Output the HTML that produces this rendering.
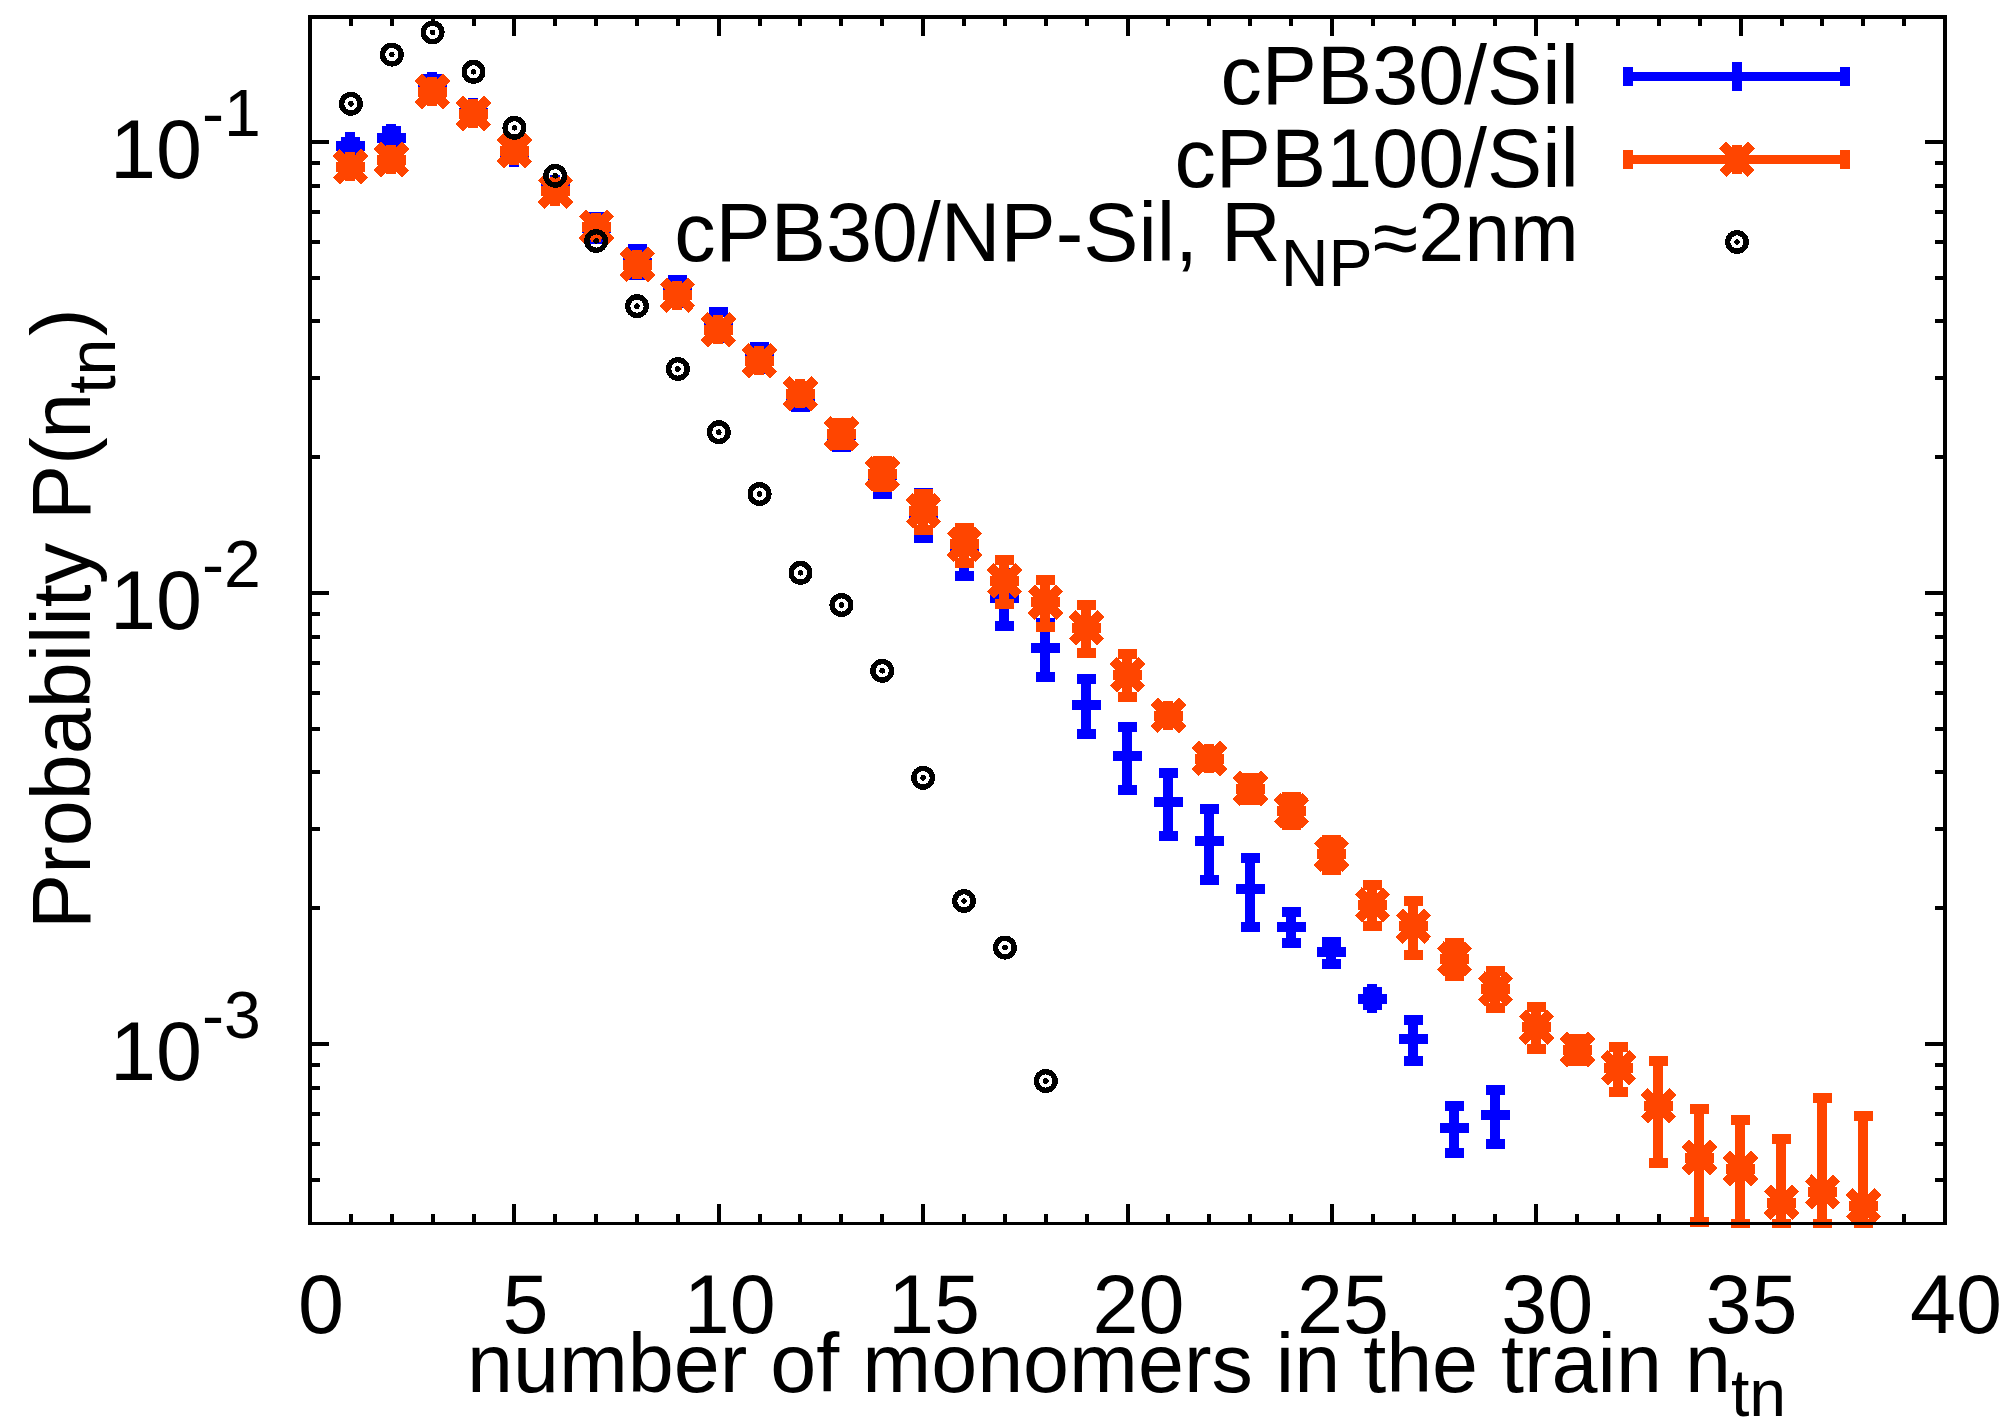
<!DOCTYPE html>
<html><head><meta charset="utf-8"><title>Probability P(n_tn)</title>
<style>html,body{margin:0;padding:0;background:#fff}svg{display:block}</style></head>
<body>
<svg width="2005" height="1428" viewBox="0 0 2005 1428">
<rect width="2005" height="1428" fill="#fff"/>
<g shape-rendering="crispEdges">
<rect x="308.0" y="1204.0" width="4.0" height="19.0" fill="#000"/>
<rect x="308.0" y="17.0" width="4.0" height="19.0" fill="#000"/>
<rect x="349.0" y="1214.0" width="4.0" height="9.0" fill="#000"/>
<rect x="349.0" y="17.0" width="4.0" height="9.0" fill="#000"/>
<rect x="390.0" y="1214.0" width="4.0" height="9.0" fill="#000"/>
<rect x="390.0" y="17.0" width="4.0" height="9.0" fill="#000"/>
<rect x="431.0" y="1214.0" width="4.0" height="9.0" fill="#000"/>
<rect x="431.0" y="17.0" width="4.0" height="9.0" fill="#000"/>
<rect x="472.0" y="1214.0" width="4.0" height="9.0" fill="#000"/>
<rect x="472.0" y="17.0" width="4.0" height="9.0" fill="#000"/>
<rect x="512.0" y="1204.0" width="4.0" height="19.0" fill="#000"/>
<rect x="512.0" y="17.0" width="4.0" height="19.0" fill="#000"/>
<rect x="553.0" y="1214.0" width="4.0" height="9.0" fill="#000"/>
<rect x="553.0" y="17.0" width="4.0" height="9.0" fill="#000"/>
<rect x="594.0" y="1214.0" width="4.0" height="9.0" fill="#000"/>
<rect x="594.0" y="17.0" width="4.0" height="9.0" fill="#000"/>
<rect x="635.0" y="1214.0" width="4.0" height="9.0" fill="#000"/>
<rect x="635.0" y="17.0" width="4.0" height="9.0" fill="#000"/>
<rect x="676.0" y="1214.0" width="4.0" height="9.0" fill="#000"/>
<rect x="676.0" y="17.0" width="4.0" height="9.0" fill="#000"/>
<rect x="717.0" y="1204.0" width="4.0" height="19.0" fill="#000"/>
<rect x="717.0" y="17.0" width="4.0" height="19.0" fill="#000"/>
<rect x="758.0" y="1214.0" width="4.0" height="9.0" fill="#000"/>
<rect x="758.0" y="17.0" width="4.0" height="9.0" fill="#000"/>
<rect x="798.0" y="1214.0" width="4.0" height="9.0" fill="#000"/>
<rect x="798.0" y="17.0" width="4.0" height="9.0" fill="#000"/>
<rect x="839.0" y="1214.0" width="4.0" height="9.0" fill="#000"/>
<rect x="839.0" y="17.0" width="4.0" height="9.0" fill="#000"/>
<rect x="880.0" y="1214.0" width="4.0" height="9.0" fill="#000"/>
<rect x="880.0" y="17.0" width="4.0" height="9.0" fill="#000"/>
<rect x="921.0" y="1204.0" width="4.0" height="19.0" fill="#000"/>
<rect x="921.0" y="17.0" width="4.0" height="19.0" fill="#000"/>
<rect x="962.0" y="1214.0" width="4.0" height="9.0" fill="#000"/>
<rect x="962.0" y="17.0" width="4.0" height="9.0" fill="#000"/>
<rect x="1003.0" y="1214.0" width="4.0" height="9.0" fill="#000"/>
<rect x="1003.0" y="17.0" width="4.0" height="9.0" fill="#000"/>
<rect x="1044.0" y="1214.0" width="4.0" height="9.0" fill="#000"/>
<rect x="1044.0" y="17.0" width="4.0" height="9.0" fill="#000"/>
<rect x="1085.0" y="1214.0" width="4.0" height="9.0" fill="#000"/>
<rect x="1085.0" y="17.0" width="4.0" height="9.0" fill="#000"/>
<rect x="1126.0" y="1204.0" width="4.0" height="19.0" fill="#000"/>
<rect x="1126.0" y="17.0" width="4.0" height="19.0" fill="#000"/>
<rect x="1166.0" y="1214.0" width="4.0" height="9.0" fill="#000"/>
<rect x="1166.0" y="17.0" width="4.0" height="9.0" fill="#000"/>
<rect x="1207.0" y="1214.0" width="4.0" height="9.0" fill="#000"/>
<rect x="1207.0" y="17.0" width="4.0" height="9.0" fill="#000"/>
<rect x="1248.0" y="1214.0" width="4.0" height="9.0" fill="#000"/>
<rect x="1248.0" y="17.0" width="4.0" height="9.0" fill="#000"/>
<rect x="1289.0" y="1214.0" width="4.0" height="9.0" fill="#000"/>
<rect x="1289.0" y="17.0" width="4.0" height="9.0" fill="#000"/>
<rect x="1330.0" y="1204.0" width="4.0" height="19.0" fill="#000"/>
<rect x="1330.0" y="17.0" width="4.0" height="19.0" fill="#000"/>
<rect x="1371.0" y="1214.0" width="4.0" height="9.0" fill="#000"/>
<rect x="1371.0" y="17.0" width="4.0" height="9.0" fill="#000"/>
<rect x="1412.0" y="1214.0" width="4.0" height="9.0" fill="#000"/>
<rect x="1412.0" y="17.0" width="4.0" height="9.0" fill="#000"/>
<rect x="1452.0" y="1214.0" width="4.0" height="9.0" fill="#000"/>
<rect x="1452.0" y="17.0" width="4.0" height="9.0" fill="#000"/>
<rect x="1493.0" y="1214.0" width="4.0" height="9.0" fill="#000"/>
<rect x="1493.0" y="17.0" width="4.0" height="9.0" fill="#000"/>
<rect x="1534.0" y="1204.0" width="4.0" height="19.0" fill="#000"/>
<rect x="1534.0" y="17.0" width="4.0" height="19.0" fill="#000"/>
<rect x="1575.0" y="1214.0" width="4.0" height="9.0" fill="#000"/>
<rect x="1575.0" y="17.0" width="4.0" height="9.0" fill="#000"/>
<rect x="1616.0" y="1214.0" width="4.0" height="9.0" fill="#000"/>
<rect x="1616.0" y="17.0" width="4.0" height="9.0" fill="#000"/>
<rect x="1657.0" y="1214.0" width="4.0" height="9.0" fill="#000"/>
<rect x="1657.0" y="17.0" width="4.0" height="9.0" fill="#000"/>
<rect x="1698.0" y="1214.0" width="4.0" height="9.0" fill="#000"/>
<rect x="1698.0" y="17.0" width="4.0" height="9.0" fill="#000"/>
<rect x="1739.0" y="1204.0" width="4.0" height="19.0" fill="#000"/>
<rect x="1739.0" y="17.0" width="4.0" height="19.0" fill="#000"/>
<rect x="1780.0" y="1214.0" width="4.0" height="9.0" fill="#000"/>
<rect x="1780.0" y="17.0" width="4.0" height="9.0" fill="#000"/>
<rect x="1820.0" y="1214.0" width="4.0" height="9.0" fill="#000"/>
<rect x="1820.0" y="17.0" width="4.0" height="9.0" fill="#000"/>
<rect x="1861.0" y="1214.0" width="4.0" height="9.0" fill="#000"/>
<rect x="1861.0" y="17.0" width="4.0" height="9.0" fill="#000"/>
<rect x="1902.0" y="1214.0" width="4.0" height="9.0" fill="#000"/>
<rect x="1902.0" y="17.0" width="4.0" height="9.0" fill="#000"/>
<rect x="1943.0" y="1204.0" width="4.0" height="19.0" fill="#000"/>
<rect x="1943.0" y="17.0" width="4.0" height="19.0" fill="#000"/>
<rect x="310.0" y="1178.0" width="10.0" height="4.0" fill="#000"/>
<rect x="1935.0" y="1178.0" width="10.0" height="4.0" fill="#000"/>
<rect x="310.0" y="1142.0" width="10.0" height="4.0" fill="#000"/>
<rect x="1935.0" y="1142.0" width="10.0" height="4.0" fill="#000"/>
<rect x="310.0" y="1112.0" width="10.0" height="4.0" fill="#000"/>
<rect x="1935.0" y="1112.0" width="10.0" height="4.0" fill="#000"/>
<rect x="310.0" y="1086.0" width="10.0" height="4.0" fill="#000"/>
<rect x="1935.0" y="1086.0" width="10.0" height="4.0" fill="#000"/>
<rect x="310.0" y="1063.0" width="10.0" height="4.0" fill="#000"/>
<rect x="1935.0" y="1063.0" width="10.0" height="4.0" fill="#000"/>
<rect x="310.0" y="1042.0" width="19.0" height="4.0" fill="#000"/>
<rect x="1925.0" y="1042.0" width="20.0" height="4.0" fill="#000"/>
<rect x="310.0" y="906.0" width="10.0" height="4.0" fill="#000"/>
<rect x="1935.0" y="906.0" width="10.0" height="4.0" fill="#000"/>
<rect x="310.0" y="827.0" width="10.0" height="4.0" fill="#000"/>
<rect x="1935.0" y="827.0" width="10.0" height="4.0" fill="#000"/>
<rect x="310.0" y="770.0" width="10.0" height="4.0" fill="#000"/>
<rect x="1935.0" y="770.0" width="10.0" height="4.0" fill="#000"/>
<rect x="310.0" y="727.0" width="10.0" height="4.0" fill="#000"/>
<rect x="1935.0" y="727.0" width="10.0" height="4.0" fill="#000"/>
<rect x="310.0" y="691.0" width="10.0" height="4.0" fill="#000"/>
<rect x="1935.0" y="691.0" width="10.0" height="4.0" fill="#000"/>
<rect x="310.0" y="661.0" width="10.0" height="4.0" fill="#000"/>
<rect x="1935.0" y="661.0" width="10.0" height="4.0" fill="#000"/>
<rect x="310.0" y="635.0" width="10.0" height="4.0" fill="#000"/>
<rect x="1935.0" y="635.0" width="10.0" height="4.0" fill="#000"/>
<rect x="310.0" y="612.0" width="10.0" height="4.0" fill="#000"/>
<rect x="1935.0" y="612.0" width="10.0" height="4.0" fill="#000"/>
<rect x="310.0" y="591.0" width="19.0" height="4.0" fill="#000"/>
<rect x="1925.0" y="591.0" width="20.0" height="4.0" fill="#000"/>
<rect x="310.0" y="455.0" width="10.0" height="4.0" fill="#000"/>
<rect x="1935.0" y="455.0" width="10.0" height="4.0" fill="#000"/>
<rect x="310.0" y="376.0" width="10.0" height="4.0" fill="#000"/>
<rect x="1935.0" y="376.0" width="10.0" height="4.0" fill="#000"/>
<rect x="310.0" y="319.0" width="10.0" height="4.0" fill="#000"/>
<rect x="1935.0" y="319.0" width="10.0" height="4.0" fill="#000"/>
<rect x="310.0" y="276.0" width="10.0" height="4.0" fill="#000"/>
<rect x="1935.0" y="276.0" width="10.0" height="4.0" fill="#000"/>
<rect x="310.0" y="240.0" width="10.0" height="4.0" fill="#000"/>
<rect x="1935.0" y="240.0" width="10.0" height="4.0" fill="#000"/>
<rect x="310.0" y="210.0" width="10.0" height="4.0" fill="#000"/>
<rect x="1935.0" y="210.0" width="10.0" height="4.0" fill="#000"/>
<rect x="310.0" y="184.0" width="10.0" height="4.0" fill="#000"/>
<rect x="1935.0" y="184.0" width="10.0" height="4.0" fill="#000"/>
<rect x="310.0" y="161.0" width="10.0" height="4.0" fill="#000"/>
<rect x="1935.0" y="161.0" width="10.0" height="4.0" fill="#000"/>
<rect x="310.0" y="140.0" width="19.0" height="4.0" fill="#000"/>
<rect x="1925.0" y="140.0" width="20.0" height="4.0" fill="#000"/>
<rect x="345.0" y="142.2" width="10.0" height="8.4" fill="#0000ff"/>
<rect x="340.5" y="137.2" width="19.0" height="10.0" fill="#0000ff"/>
<rect x="340.5" y="145.6" width="19.0" height="10.0" fill="#0000ff"/>
<rect x="335.5" y="141.4" width="29.0" height="10.0" fill="#0000ff"/>
<rect x="345.0" y="131.9" width="10.0" height="29.0" fill="#0000ff"/>
<rect x="386.0" y="131.0" width="10.0" height="14.0" fill="#0000ff"/>
<rect x="381.5" y="126.0" width="19.0" height="10.0" fill="#0000ff"/>
<rect x="381.5" y="140.0" width="19.0" height="10.0" fill="#0000ff"/>
<rect x="376.5" y="133.0" width="29.0" height="10.0" fill="#0000ff"/>
<rect x="386.0" y="123.5" width="10.0" height="29.0" fill="#0000ff"/>
<rect x="427.0" y="79.0" width="10.0" height="13.3" fill="#0000ff"/>
<rect x="422.5" y="74.0" width="19.0" height="10.0" fill="#0000ff"/>
<rect x="422.5" y="87.3" width="19.0" height="10.0" fill="#0000ff"/>
<rect x="417.5" y="81.3" width="29.0" height="10.0" fill="#0000ff"/>
<rect x="427.0" y="71.8" width="10.0" height="29.0" fill="#0000ff"/>
<rect x="468.0" y="107.7" width="10.0" height="10.0" fill="#0000ff"/>
<rect x="463.5" y="102.7" width="19.0" height="10.0" fill="#0000ff"/>
<rect x="463.5" y="112.7" width="19.0" height="10.0" fill="#0000ff"/>
<rect x="458.5" y="107.7" width="29.0" height="10.0" fill="#0000ff"/>
<rect x="468.0" y="98.2" width="10.0" height="29.0" fill="#0000ff"/>
<rect x="509.0" y="147.3" width="10.0" height="10.0" fill="#0000ff"/>
<rect x="504.5" y="142.3" width="19.0" height="10.0" fill="#0000ff"/>
<rect x="504.5" y="152.3" width="19.0" height="10.0" fill="#0000ff"/>
<rect x="499.5" y="147.3" width="29.0" height="10.0" fill="#0000ff"/>
<rect x="509.0" y="137.8" width="10.0" height="29.0" fill="#0000ff"/>
<rect x="550.0" y="184.3" width="10.0" height="10.0" fill="#0000ff"/>
<rect x="545.5" y="179.3" width="19.0" height="10.0" fill="#0000ff"/>
<rect x="545.5" y="189.3" width="19.0" height="10.0" fill="#0000ff"/>
<rect x="540.5" y="184.3" width="29.0" height="10.0" fill="#0000ff"/>
<rect x="550.0" y="174.8" width="10.0" height="29.0" fill="#0000ff"/>
<rect x="591.0" y="216.8" width="10.0" height="21.7" fill="#0000ff"/>
<rect x="586.5" y="211.8" width="19.0" height="10.0" fill="#0000ff"/>
<rect x="586.5" y="233.5" width="19.0" height="10.0" fill="#0000ff"/>
<rect x="581.5" y="222.5" width="29.0" height="10.0" fill="#0000ff"/>
<rect x="591.0" y="213.0" width="10.0" height="29.0" fill="#0000ff"/>
<rect x="632.0" y="249.0" width="10.0" height="25.5" fill="#0000ff"/>
<rect x="627.5" y="244.0" width="19.0" height="10.0" fill="#0000ff"/>
<rect x="627.5" y="269.5" width="19.0" height="10.0" fill="#0000ff"/>
<rect x="622.5" y="257.5" width="29.0" height="10.0" fill="#0000ff"/>
<rect x="632.0" y="248.0" width="10.0" height="29.0" fill="#0000ff"/>
<rect x="672.0" y="280.4" width="10.0" height="23.0" fill="#0000ff"/>
<rect x="667.5" y="275.4" width="19.0" height="10.0" fill="#0000ff"/>
<rect x="667.5" y="298.4" width="19.0" height="10.0" fill="#0000ff"/>
<rect x="662.5" y="288.4" width="29.0" height="10.0" fill="#0000ff"/>
<rect x="672.0" y="278.9" width="10.0" height="29.0" fill="#0000ff"/>
<rect x="713.0" y="312.1" width="10.0" height="25.7" fill="#0000ff"/>
<rect x="708.5" y="307.1" width="19.0" height="10.0" fill="#0000ff"/>
<rect x="708.5" y="332.8" width="19.0" height="10.0" fill="#0000ff"/>
<rect x="703.5" y="322.8" width="29.0" height="10.0" fill="#0000ff"/>
<rect x="713.0" y="313.3" width="10.0" height="29.0" fill="#0000ff"/>
<rect x="754.0" y="347.0" width="10.0" height="22.0" fill="#0000ff"/>
<rect x="749.5" y="342.0" width="19.0" height="10.0" fill="#0000ff"/>
<rect x="749.5" y="364.0" width="19.0" height="10.0" fill="#0000ff"/>
<rect x="744.5" y="354.0" width="29.0" height="10.0" fill="#0000ff"/>
<rect x="754.0" y="344.5" width="10.0" height="29.0" fill="#0000ff"/>
<rect x="795.0" y="385.5" width="10.0" height="21.5" fill="#0000ff"/>
<rect x="790.5" y="380.5" width="19.0" height="10.0" fill="#0000ff"/>
<rect x="790.5" y="402.0" width="19.0" height="10.0" fill="#0000ff"/>
<rect x="785.5" y="390.5" width="29.0" height="10.0" fill="#0000ff"/>
<rect x="795.0" y="381.0" width="10.0" height="29.0" fill="#0000ff"/>
<rect x="836.0" y="424.5" width="10.0" height="22.4" fill="#0000ff"/>
<rect x="831.5" y="419.5" width="19.0" height="10.0" fill="#0000ff"/>
<rect x="831.5" y="441.9" width="19.0" height="10.0" fill="#0000ff"/>
<rect x="826.5" y="429.5" width="29.0" height="10.0" fill="#0000ff"/>
<rect x="836.0" y="420.0" width="10.0" height="29.0" fill="#0000ff"/>
<rect x="877.0" y="463.0" width="10.0" height="30.7" fill="#0000ff"/>
<rect x="872.5" y="458.0" width="19.0" height="10.0" fill="#0000ff"/>
<rect x="872.5" y="488.7" width="19.0" height="10.0" fill="#0000ff"/>
<rect x="867.5" y="470.0" width="29.0" height="10.0" fill="#0000ff"/>
<rect x="877.0" y="460.5" width="10.0" height="29.0" fill="#0000ff"/>
<rect x="918.0" y="493.2" width="10.0" height="44.7" fill="#0000ff"/>
<rect x="913.5" y="488.2" width="19.0" height="10.0" fill="#0000ff"/>
<rect x="913.5" y="532.9" width="19.0" height="10.0" fill="#0000ff"/>
<rect x="908.5" y="509.0" width="29.0" height="10.0" fill="#0000ff"/>
<rect x="918.0" y="499.5" width="10.0" height="29.0" fill="#0000ff"/>
<rect x="959.0" y="529.5" width="10.0" height="46.5" fill="#0000ff"/>
<rect x="954.5" y="524.5" width="19.0" height="10.0" fill="#0000ff"/>
<rect x="954.5" y="571.0" width="19.0" height="10.0" fill="#0000ff"/>
<rect x="949.5" y="542.5" width="29.0" height="10.0" fill="#0000ff"/>
<rect x="959.0" y="533.0" width="10.0" height="29.0" fill="#0000ff"/>
<rect x="999.0" y="573.1" width="10.0" height="53.0" fill="#0000ff"/>
<rect x="994.5" y="568.1" width="19.0" height="10.0" fill="#0000ff"/>
<rect x="994.5" y="621.1" width="19.0" height="10.0" fill="#0000ff"/>
<rect x="989.5" y="593.1" width="29.0" height="10.0" fill="#0000ff"/>
<rect x="999.0" y="583.6" width="10.0" height="29.0" fill="#0000ff"/>
<rect x="1040.0" y="623.0" width="10.0" height="54.4" fill="#0000ff"/>
<rect x="1035.5" y="618.0" width="19.0" height="10.0" fill="#0000ff"/>
<rect x="1035.5" y="672.4" width="19.0" height="10.0" fill="#0000ff"/>
<rect x="1030.5" y="643.0" width="29.0" height="10.0" fill="#0000ff"/>
<rect x="1040.0" y="633.5" width="10.0" height="29.0" fill="#0000ff"/>
<rect x="1081.0" y="679.0" width="10.0" height="55.1" fill="#0000ff"/>
<rect x="1076.5" y="674.0" width="19.0" height="10.0" fill="#0000ff"/>
<rect x="1076.5" y="729.1" width="19.0" height="10.0" fill="#0000ff"/>
<rect x="1071.5" y="700.2" width="29.0" height="10.0" fill="#0000ff"/>
<rect x="1081.0" y="690.7" width="10.0" height="29.0" fill="#0000ff"/>
<rect x="1122.0" y="727.0" width="10.0" height="63.0" fill="#0000ff"/>
<rect x="1117.5" y="722.0" width="19.0" height="10.0" fill="#0000ff"/>
<rect x="1117.5" y="785.0" width="19.0" height="10.0" fill="#0000ff"/>
<rect x="1112.5" y="751.0" width="29.0" height="10.0" fill="#0000ff"/>
<rect x="1122.0" y="741.5" width="10.0" height="29.0" fill="#0000ff"/>
<rect x="1163.0" y="773.0" width="10.0" height="63.0" fill="#0000ff"/>
<rect x="1158.5" y="768.0" width="19.0" height="10.0" fill="#0000ff"/>
<rect x="1158.5" y="831.0" width="19.0" height="10.0" fill="#0000ff"/>
<rect x="1153.5" y="796.9" width="29.0" height="10.0" fill="#0000ff"/>
<rect x="1163.0" y="787.4" width="10.0" height="29.0" fill="#0000ff"/>
<rect x="1204.0" y="809.1" width="10.0" height="70.6" fill="#0000ff"/>
<rect x="1199.5" y="804.1" width="19.0" height="10.0" fill="#0000ff"/>
<rect x="1199.5" y="874.7" width="19.0" height="10.0" fill="#0000ff"/>
<rect x="1194.5" y="836.0" width="29.0" height="10.0" fill="#0000ff"/>
<rect x="1204.0" y="826.5" width="10.0" height="29.0" fill="#0000ff"/>
<rect x="1245.0" y="858.0" width="10.0" height="69.0" fill="#0000ff"/>
<rect x="1240.5" y="853.0" width="19.0" height="10.0" fill="#0000ff"/>
<rect x="1240.5" y="922.0" width="19.0" height="10.0" fill="#0000ff"/>
<rect x="1235.5" y="884.0" width="29.0" height="10.0" fill="#0000ff"/>
<rect x="1245.0" y="874.5" width="10.0" height="29.0" fill="#0000ff"/>
<rect x="1286.0" y="912.0" width="10.0" height="30.8" fill="#0000ff"/>
<rect x="1281.5" y="907.0" width="19.0" height="10.0" fill="#0000ff"/>
<rect x="1281.5" y="937.8" width="19.0" height="10.0" fill="#0000ff"/>
<rect x="1276.5" y="922.0" width="29.0" height="10.0" fill="#0000ff"/>
<rect x="1286.0" y="912.5" width="10.0" height="29.0" fill="#0000ff"/>
<rect x="1326.0" y="942.1" width="10.0" height="21.8" fill="#0000ff"/>
<rect x="1321.5" y="937.1" width="19.0" height="10.0" fill="#0000ff"/>
<rect x="1321.5" y="958.9" width="19.0" height="10.0" fill="#0000ff"/>
<rect x="1316.5" y="947.1" width="29.0" height="10.0" fill="#0000ff"/>
<rect x="1326.0" y="937.6" width="10.0" height="29.0" fill="#0000ff"/>
<rect x="1367.0" y="992.2" width="10.0" height="12.7" fill="#0000ff"/>
<rect x="1362.5" y="987.2" width="19.0" height="10.0" fill="#0000ff"/>
<rect x="1362.5" y="999.9" width="19.0" height="10.0" fill="#0000ff"/>
<rect x="1357.5" y="993.5" width="29.0" height="10.0" fill="#0000ff"/>
<rect x="1367.0" y="984.0" width="10.0" height="29.0" fill="#0000ff"/>
<rect x="1408.0" y="1020.2" width="10.0" height="41.0" fill="#0000ff"/>
<rect x="1403.5" y="1015.2" width="19.0" height="10.0" fill="#0000ff"/>
<rect x="1403.5" y="1056.2" width="19.0" height="10.0" fill="#0000ff"/>
<rect x="1398.5" y="1034.2" width="29.0" height="10.0" fill="#0000ff"/>
<rect x="1408.0" y="1024.7" width="10.0" height="29.0" fill="#0000ff"/>
<rect x="1449.0" y="1106.1" width="10.0" height="46.9" fill="#0000ff"/>
<rect x="1444.5" y="1101.1" width="19.0" height="10.0" fill="#0000ff"/>
<rect x="1444.5" y="1148.0" width="19.0" height="10.0" fill="#0000ff"/>
<rect x="1439.5" y="1123.1" width="29.0" height="10.0" fill="#0000ff"/>
<rect x="1449.0" y="1113.6" width="10.0" height="29.0" fill="#0000ff"/>
<rect x="1490.0" y="1090.1" width="10.0" height="53.5" fill="#0000ff"/>
<rect x="1485.5" y="1085.1" width="19.0" height="10.0" fill="#0000ff"/>
<rect x="1485.5" y="1138.6" width="19.0" height="10.0" fill="#0000ff"/>
<rect x="1480.5" y="1110.1" width="29.0" height="10.0" fill="#0000ff"/>
<rect x="1490.0" y="1100.6" width="10.0" height="29.0" fill="#0000ff"/>
<rect x="345.0" y="161.7" width="10.0" height="10.0" fill="#ff4500"/>
<rect x="340.5" y="156.7" width="19.0" height="10.0" fill="#ff4500"/>
<rect x="340.5" y="166.7" width="19.0" height="10.0" fill="#ff4500"/>
<rect x="335.5" y="161.7" width="29.0" height="10.0" fill="#ff4500"/>
<rect x="345.0" y="152.2" width="10.0" height="29.0" fill="#ff4500"/>
<polygon points="332.8,156.0 339.9,148.9 368.2,177.3 361.1,184.4" fill="#ff4500"/>
<polygon points="332.8,177.3 339.9,184.4 368.2,156.0 361.1,148.9" fill="#ff4500"/>
<rect x="386.0" y="154.6" width="10.0" height="10.0" fill="#ff4500"/>
<rect x="381.5" y="149.6" width="19.0" height="10.0" fill="#ff4500"/>
<rect x="381.5" y="159.6" width="19.0" height="10.0" fill="#ff4500"/>
<rect x="376.5" y="154.6" width="29.0" height="10.0" fill="#ff4500"/>
<rect x="386.0" y="145.1" width="10.0" height="29.0" fill="#ff4500"/>
<polygon points="373.8,148.9 380.9,141.8 409.2,170.2 402.1,177.3" fill="#ff4500"/>
<polygon points="373.8,170.2 380.9,177.3 409.2,148.9 402.1,141.8" fill="#ff4500"/>
<rect x="427.0" y="86.6" width="10.0" height="10.0" fill="#ff4500"/>
<rect x="422.5" y="81.6" width="19.0" height="10.0" fill="#ff4500"/>
<rect x="422.5" y="91.6" width="19.0" height="10.0" fill="#ff4500"/>
<rect x="417.5" y="86.6" width="29.0" height="10.0" fill="#ff4500"/>
<rect x="427.0" y="77.1" width="10.0" height="29.0" fill="#ff4500"/>
<polygon points="414.8,80.9 421.9,73.8 450.2,102.2 443.1,109.3" fill="#ff4500"/>
<polygon points="414.8,102.2 421.9,109.3 450.2,80.9 443.1,73.8" fill="#ff4500"/>
<rect x="468.0" y="108.6" width="10.0" height="10.0" fill="#ff4500"/>
<rect x="463.5" y="103.6" width="19.0" height="10.0" fill="#ff4500"/>
<rect x="463.5" y="113.6" width="19.0" height="10.0" fill="#ff4500"/>
<rect x="458.5" y="108.6" width="29.0" height="10.0" fill="#ff4500"/>
<rect x="468.0" y="99.1" width="10.0" height="29.0" fill="#ff4500"/>
<polygon points="455.8,102.9 462.9,95.8 491.2,124.2 484.1,131.3" fill="#ff4500"/>
<polygon points="455.8,124.2 462.9,131.3 491.2,102.9 484.1,95.8" fill="#ff4500"/>
<rect x="509.0" y="145.6" width="10.0" height="10.0" fill="#ff4500"/>
<rect x="504.5" y="140.6" width="19.0" height="10.0" fill="#ff4500"/>
<rect x="504.5" y="150.6" width="19.0" height="10.0" fill="#ff4500"/>
<rect x="499.5" y="145.6" width="29.0" height="10.0" fill="#ff4500"/>
<rect x="509.0" y="136.1" width="10.0" height="29.0" fill="#ff4500"/>
<polygon points="496.8,139.9 503.9,132.8 532.2,161.2 525.2,168.3" fill="#ff4500"/>
<polygon points="496.8,161.2 503.9,168.3 532.2,139.9 525.2,132.8" fill="#ff4500"/>
<rect x="550.0" y="186.4" width="10.0" height="10.0" fill="#ff4500"/>
<rect x="545.5" y="181.4" width="19.0" height="10.0" fill="#ff4500"/>
<rect x="545.5" y="191.4" width="19.0" height="10.0" fill="#ff4500"/>
<rect x="540.5" y="186.4" width="29.0" height="10.0" fill="#ff4500"/>
<rect x="550.0" y="176.9" width="10.0" height="29.0" fill="#ff4500"/>
<polygon points="537.8,180.8 544.8,173.7 573.2,202.1 566.2,209.2" fill="#ff4500"/>
<polygon points="537.8,202.1 544.8,209.2 573.2,180.8 566.2,173.7" fill="#ff4500"/>
<rect x="591.0" y="222.4" width="10.0" height="10.0" fill="#ff4500"/>
<rect x="586.5" y="217.4" width="19.0" height="10.0" fill="#ff4500"/>
<rect x="586.5" y="227.4" width="19.0" height="10.0" fill="#ff4500"/>
<rect x="581.5" y="222.4" width="29.0" height="10.0" fill="#ff4500"/>
<rect x="591.0" y="212.9" width="10.0" height="29.0" fill="#ff4500"/>
<polygon points="578.8,216.8 585.8,209.7 614.2,238.1 607.2,245.2" fill="#ff4500"/>
<polygon points="578.8,238.1 585.8,245.2 614.2,216.8 607.2,209.7" fill="#ff4500"/>
<rect x="632.0" y="259.5" width="10.0" height="10.0" fill="#ff4500"/>
<rect x="627.5" y="254.5" width="19.0" height="10.0" fill="#ff4500"/>
<rect x="627.5" y="264.5" width="19.0" height="10.0" fill="#ff4500"/>
<rect x="622.5" y="259.5" width="29.0" height="10.0" fill="#ff4500"/>
<rect x="632.0" y="250.0" width="10.0" height="29.0" fill="#ff4500"/>
<polygon points="619.8,253.8 626.8,246.8 655.2,275.1 648.2,282.2" fill="#ff4500"/>
<polygon points="619.8,275.1 626.8,282.2 655.2,253.8 648.2,246.8" fill="#ff4500"/>
<rect x="672.0" y="290.2" width="10.0" height="10.0" fill="#ff4500"/>
<rect x="667.5" y="285.2" width="19.0" height="10.0" fill="#ff4500"/>
<rect x="667.5" y="295.2" width="19.0" height="10.0" fill="#ff4500"/>
<rect x="662.5" y="290.2" width="29.0" height="10.0" fill="#ff4500"/>
<rect x="672.0" y="280.7" width="10.0" height="29.0" fill="#ff4500"/>
<polygon points="659.8,284.6 666.8,277.4 695.2,305.8 688.2,312.9" fill="#ff4500"/>
<polygon points="659.8,305.8 666.8,312.9 695.2,284.6 688.2,277.4" fill="#ff4500"/>
<rect x="713.0" y="323.6" width="10.0" height="12.0" fill="#ff4500"/>
<rect x="708.5" y="318.6" width="19.0" height="10.0" fill="#ff4500"/>
<rect x="708.5" y="330.6" width="19.0" height="10.0" fill="#ff4500"/>
<rect x="703.5" y="324.6" width="29.0" height="10.0" fill="#ff4500"/>
<rect x="713.0" y="315.1" width="10.0" height="29.0" fill="#ff4500"/>
<polygon points="700.8,319.0 707.8,311.9 736.2,340.2 729.2,347.4" fill="#ff4500"/>
<polygon points="700.8,340.2 707.8,347.4 736.2,319.0 729.2,311.9" fill="#ff4500"/>
<rect x="754.0" y="353.6" width="10.0" height="14.0" fill="#ff4500"/>
<rect x="749.5" y="348.6" width="19.0" height="10.0" fill="#ff4500"/>
<rect x="749.5" y="362.6" width="19.0" height="10.0" fill="#ff4500"/>
<rect x="744.5" y="355.6" width="29.0" height="10.0" fill="#ff4500"/>
<rect x="754.0" y="346.1" width="10.0" height="29.0" fill="#ff4500"/>
<polygon points="741.8,350.0 748.8,342.9 777.2,371.2 770.2,378.4" fill="#ff4500"/>
<polygon points="741.8,371.2 748.8,378.4 777.2,350.0 770.2,342.9" fill="#ff4500"/>
<rect x="795.0" y="385.6" width="10.0" height="16.0" fill="#ff4500"/>
<rect x="790.5" y="380.6" width="19.0" height="10.0" fill="#ff4500"/>
<rect x="790.5" y="396.6" width="19.0" height="10.0" fill="#ff4500"/>
<rect x="785.5" y="388.6" width="29.0" height="10.0" fill="#ff4500"/>
<rect x="795.0" y="379.1" width="10.0" height="29.0" fill="#ff4500"/>
<polygon points="782.8,383.0 789.8,375.9 818.2,404.2 811.2,411.4" fill="#ff4500"/>
<polygon points="782.8,404.2 789.8,411.4 818.2,383.0 811.2,375.9" fill="#ff4500"/>
<rect x="836.0" y="423.0" width="10.0" height="22.1" fill="#ff4500"/>
<rect x="831.5" y="418.0" width="19.0" height="10.0" fill="#ff4500"/>
<rect x="831.5" y="440.1" width="19.0" height="10.0" fill="#ff4500"/>
<rect x="826.5" y="428.6" width="29.0" height="10.0" fill="#ff4500"/>
<rect x="836.0" y="419.1" width="10.0" height="29.0" fill="#ff4500"/>
<polygon points="823.8,423.0 830.8,415.9 859.2,444.2 852.2,451.4" fill="#ff4500"/>
<polygon points="823.8,444.2 830.8,451.4 859.2,423.0 852.2,415.9" fill="#ff4500"/>
<rect x="877.0" y="461.0" width="10.0" height="25.7" fill="#ff4500"/>
<rect x="872.5" y="456.0" width="19.0" height="10.0" fill="#ff4500"/>
<rect x="872.5" y="481.7" width="19.0" height="10.0" fill="#ff4500"/>
<rect x="867.5" y="468.6" width="29.0" height="10.0" fill="#ff4500"/>
<rect x="877.0" y="459.1" width="10.0" height="29.0" fill="#ff4500"/>
<polygon points="864.8,463.0 871.8,455.9 900.2,484.2 893.2,491.4" fill="#ff4500"/>
<polygon points="864.8,484.2 871.8,491.4 900.2,463.0 893.2,455.9" fill="#ff4500"/>
<rect x="918.0" y="493.9" width="10.0" height="35.6" fill="#ff4500"/>
<rect x="913.5" y="488.9" width="19.0" height="10.0" fill="#ff4500"/>
<rect x="913.5" y="524.5" width="19.0" height="10.0" fill="#ff4500"/>
<rect x="908.5" y="505.8" width="29.0" height="10.0" fill="#ff4500"/>
<rect x="918.0" y="496.3" width="10.0" height="29.0" fill="#ff4500"/>
<polygon points="905.8,500.2 912.8,493.1 941.2,521.5 934.2,528.5" fill="#ff4500"/>
<polygon points="905.8,521.5 912.8,528.5 941.2,500.2 934.2,493.1" fill="#ff4500"/>
<rect x="959.0" y="528.2" width="10.0" height="34.6" fill="#ff4500"/>
<rect x="954.5" y="523.2" width="19.0" height="10.0" fill="#ff4500"/>
<rect x="954.5" y="557.8" width="19.0" height="10.0" fill="#ff4500"/>
<rect x="949.5" y="539.4" width="29.0" height="10.0" fill="#ff4500"/>
<rect x="959.0" y="529.9" width="10.0" height="29.0" fill="#ff4500"/>
<polygon points="946.8,533.8 953.8,526.6 982.2,555.0 975.2,562.1" fill="#ff4500"/>
<polygon points="946.8,555.0 953.8,562.1 982.2,533.8 975.2,526.6" fill="#ff4500"/>
<rect x="999.0" y="560.2" width="10.0" height="43.6" fill="#ff4500"/>
<rect x="994.5" y="555.2" width="19.0" height="10.0" fill="#ff4500"/>
<rect x="994.5" y="598.8" width="19.0" height="10.0" fill="#ff4500"/>
<rect x="989.5" y="575.9" width="29.0" height="10.0" fill="#ff4500"/>
<rect x="999.0" y="566.4" width="10.0" height="29.0" fill="#ff4500"/>
<polygon points="986.8,570.2 993.8,563.1 1022.2,591.5 1015.2,598.6" fill="#ff4500"/>
<polygon points="986.8,591.5 993.8,598.6 1022.2,570.2 1015.2,563.1" fill="#ff4500"/>
<rect x="1040.0" y="580.1" width="10.0" height="46.7" fill="#ff4500"/>
<rect x="1035.5" y="575.1" width="19.0" height="10.0" fill="#ff4500"/>
<rect x="1035.5" y="621.8" width="19.0" height="10.0" fill="#ff4500"/>
<rect x="1030.5" y="597.4" width="29.0" height="10.0" fill="#ff4500"/>
<rect x="1040.0" y="587.9" width="10.0" height="29.0" fill="#ff4500"/>
<polygon points="1027.8,591.8 1034.8,584.6 1063.2,613.0 1056.2,620.1" fill="#ff4500"/>
<polygon points="1027.8,613.0 1034.8,620.1 1063.2,591.8 1056.2,584.6" fill="#ff4500"/>
<rect x="1081.0" y="604.9" width="10.0" height="48.2" fill="#ff4500"/>
<rect x="1076.5" y="599.9" width="19.0" height="10.0" fill="#ff4500"/>
<rect x="1076.5" y="648.1" width="19.0" height="10.0" fill="#ff4500"/>
<rect x="1071.5" y="622.8" width="29.0" height="10.0" fill="#ff4500"/>
<rect x="1081.0" y="613.3" width="10.0" height="29.0" fill="#ff4500"/>
<polygon points="1068.8,617.1 1075.8,610.0 1104.2,638.4 1097.2,645.5" fill="#ff4500"/>
<polygon points="1068.8,638.4 1075.8,645.5 1104.2,617.1 1097.2,610.0" fill="#ff4500"/>
<rect x="1122.0" y="654.0" width="10.0" height="43.0" fill="#ff4500"/>
<rect x="1117.5" y="649.0" width="19.0" height="10.0" fill="#ff4500"/>
<rect x="1117.5" y="692.0" width="19.0" height="10.0" fill="#ff4500"/>
<rect x="1112.5" y="669.7" width="29.0" height="10.0" fill="#ff4500"/>
<rect x="1122.0" y="660.2" width="10.0" height="29.0" fill="#ff4500"/>
<polygon points="1109.8,664.1 1116.8,657.0 1145.2,685.4 1138.2,692.5" fill="#ff4500"/>
<polygon points="1109.8,685.4 1116.8,692.5 1145.2,664.1 1138.2,657.0" fill="#ff4500"/>
<rect x="1163.0" y="708.5" width="10.0" height="14.0" fill="#ff4500"/>
<rect x="1158.5" y="703.5" width="19.0" height="10.0" fill="#ff4500"/>
<rect x="1158.5" y="717.5" width="19.0" height="10.0" fill="#ff4500"/>
<rect x="1153.5" y="710.5" width="29.0" height="10.0" fill="#ff4500"/>
<rect x="1163.0" y="701.0" width="10.0" height="29.0" fill="#ff4500"/>
<polygon points="1150.8,704.9 1157.8,697.8 1186.2,726.1 1179.2,733.2" fill="#ff4500"/>
<polygon points="1150.8,726.1 1157.8,733.2 1186.2,704.9 1179.2,697.8" fill="#ff4500"/>
<rect x="1204.0" y="750.5" width="10.0" height="16.0" fill="#ff4500"/>
<rect x="1199.5" y="745.5" width="19.0" height="10.0" fill="#ff4500"/>
<rect x="1199.5" y="761.5" width="19.0" height="10.0" fill="#ff4500"/>
<rect x="1194.5" y="753.5" width="29.0" height="10.0" fill="#ff4500"/>
<rect x="1204.0" y="744.0" width="10.0" height="29.0" fill="#ff4500"/>
<polygon points="1191.8,747.9 1198.8,740.8 1227.2,769.1 1220.2,776.2" fill="#ff4500"/>
<polygon points="1191.8,769.1 1198.8,776.2 1227.2,747.9 1220.2,740.8" fill="#ff4500"/>
<rect x="1245.0" y="778.1" width="10.0" height="22.2" fill="#ff4500"/>
<rect x="1240.5" y="773.1" width="19.0" height="10.0" fill="#ff4500"/>
<rect x="1240.5" y="795.3" width="19.0" height="10.0" fill="#ff4500"/>
<rect x="1235.5" y="783.5" width="29.0" height="10.0" fill="#ff4500"/>
<rect x="1245.0" y="774.0" width="10.0" height="29.0" fill="#ff4500"/>
<polygon points="1232.8,777.9 1239.8,770.8 1268.2,799.1 1261.2,806.2" fill="#ff4500"/>
<polygon points="1232.8,799.1 1239.8,806.2 1268.2,777.9 1261.2,770.8" fill="#ff4500"/>
<rect x="1286.0" y="797.1" width="10.0" height="27.9" fill="#ff4500"/>
<rect x="1281.5" y="792.1" width="19.0" height="10.0" fill="#ff4500"/>
<rect x="1281.5" y="820.0" width="19.0" height="10.0" fill="#ff4500"/>
<rect x="1276.5" y="805.9" width="29.0" height="10.0" fill="#ff4500"/>
<rect x="1286.0" y="796.4" width="10.0" height="29.0" fill="#ff4500"/>
<polygon points="1273.8,800.2 1280.8,793.1 1309.2,821.5 1302.2,828.6" fill="#ff4500"/>
<polygon points="1273.8,821.5 1280.8,828.6 1309.2,800.2 1302.2,793.1" fill="#ff4500"/>
<rect x="1326.0" y="840.2" width="10.0" height="29.7" fill="#ff4500"/>
<rect x="1321.5" y="835.2" width="19.0" height="10.0" fill="#ff4500"/>
<rect x="1321.5" y="864.9" width="19.0" height="10.0" fill="#ff4500"/>
<rect x="1316.5" y="849.3" width="29.0" height="10.0" fill="#ff4500"/>
<rect x="1326.0" y="839.8" width="10.0" height="29.0" fill="#ff4500"/>
<polygon points="1313.8,843.6 1320.8,836.5 1349.2,864.9 1342.2,872.0" fill="#ff4500"/>
<polygon points="1313.8,864.9 1320.8,872.0 1349.2,843.6 1342.2,836.5" fill="#ff4500"/>
<rect x="1367.0" y="885.0" width="10.0" height="40.9" fill="#ff4500"/>
<rect x="1362.5" y="880.0" width="19.0" height="10.0" fill="#ff4500"/>
<rect x="1362.5" y="920.9" width="19.0" height="10.0" fill="#ff4500"/>
<rect x="1357.5" y="900.0" width="29.0" height="10.0" fill="#ff4500"/>
<rect x="1367.0" y="890.5" width="10.0" height="29.0" fill="#ff4500"/>
<polygon points="1354.8,894.4 1361.8,887.2 1390.2,915.6 1383.2,922.8" fill="#ff4500"/>
<polygon points="1354.8,915.6 1361.8,922.8 1390.2,894.4 1383.2,887.2" fill="#ff4500"/>
<rect x="1408.0" y="901.2" width="10.0" height="53.6" fill="#ff4500"/>
<rect x="1403.5" y="896.2" width="19.0" height="10.0" fill="#ff4500"/>
<rect x="1403.5" y="949.8" width="19.0" height="10.0" fill="#ff4500"/>
<rect x="1398.5" y="921.1" width="29.0" height="10.0" fill="#ff4500"/>
<rect x="1408.0" y="911.6" width="10.0" height="29.0" fill="#ff4500"/>
<polygon points="1395.8,915.5 1402.8,908.4 1431.2,936.8 1424.2,943.9" fill="#ff4500"/>
<polygon points="1395.8,936.8 1402.8,943.9 1431.2,915.5 1424.2,908.4" fill="#ff4500"/>
<rect x="1449.0" y="943.1" width="10.0" height="32.8" fill="#ff4500"/>
<rect x="1444.5" y="938.1" width="19.0" height="10.0" fill="#ff4500"/>
<rect x="1444.5" y="970.9" width="19.0" height="10.0" fill="#ff4500"/>
<rect x="1439.5" y="954.0" width="29.0" height="10.0" fill="#ff4500"/>
<rect x="1449.0" y="944.5" width="10.0" height="29.0" fill="#ff4500"/>
<polygon points="1436.8,948.4 1443.8,941.2 1472.2,969.6 1465.2,976.8" fill="#ff4500"/>
<polygon points="1436.8,969.6 1443.8,976.8 1472.2,948.4 1465.2,941.2" fill="#ff4500"/>
<rect x="1490.0" y="971.1" width="10.0" height="36.8" fill="#ff4500"/>
<rect x="1485.5" y="966.1" width="19.0" height="10.0" fill="#ff4500"/>
<rect x="1485.5" y="1002.9" width="19.0" height="10.0" fill="#ff4500"/>
<rect x="1480.5" y="984.0" width="29.0" height="10.0" fill="#ff4500"/>
<rect x="1490.0" y="974.5" width="10.0" height="29.0" fill="#ff4500"/>
<polygon points="1477.8,978.4 1484.8,971.2 1513.2,999.6 1506.2,1006.8" fill="#ff4500"/>
<polygon points="1477.8,999.6 1484.8,1006.8 1513.2,978.4 1506.2,971.2" fill="#ff4500"/>
<rect x="1531.0" y="1007.4" width="10.0" height="41.6" fill="#ff4500"/>
<rect x="1526.5" y="1002.4" width="19.0" height="10.0" fill="#ff4500"/>
<rect x="1526.5" y="1044.0" width="19.0" height="10.0" fill="#ff4500"/>
<rect x="1521.5" y="1022.3" width="29.0" height="10.0" fill="#ff4500"/>
<rect x="1531.0" y="1012.8" width="10.0" height="29.0" fill="#ff4500"/>
<polygon points="1518.8,1016.6 1525.8,1009.5 1554.2,1038.0 1547.2,1045.0" fill="#ff4500"/>
<polygon points="1518.8,1038.0 1525.8,1045.0 1554.2,1016.6 1547.2,1009.5" fill="#ff4500"/>
<rect x="1572.0" y="1039.1" width="10.0" height="21.9" fill="#ff4500"/>
<rect x="1567.5" y="1034.1" width="19.0" height="10.0" fill="#ff4500"/>
<rect x="1567.5" y="1056.0" width="19.0" height="10.0" fill="#ff4500"/>
<rect x="1562.5" y="1044.6" width="29.0" height="10.0" fill="#ff4500"/>
<rect x="1572.0" y="1035.1" width="10.0" height="29.0" fill="#ff4500"/>
<polygon points="1559.8,1038.9 1566.8,1031.8 1595.2,1060.2 1588.2,1067.3" fill="#ff4500"/>
<polygon points="1559.8,1060.2 1566.8,1067.3 1595.2,1038.9 1588.2,1031.8" fill="#ff4500"/>
<rect x="1613.0" y="1047.3" width="10.0" height="44.8" fill="#ff4500"/>
<rect x="1608.5" y="1042.3" width="19.0" height="10.0" fill="#ff4500"/>
<rect x="1608.5" y="1087.1" width="19.0" height="10.0" fill="#ff4500"/>
<rect x="1603.5" y="1062.8" width="29.0" height="10.0" fill="#ff4500"/>
<rect x="1613.0" y="1053.3" width="10.0" height="29.0" fill="#ff4500"/>
<polygon points="1600.8,1057.1 1607.8,1050.0 1636.2,1078.5 1629.2,1085.5" fill="#ff4500"/>
<polygon points="1600.8,1078.5 1607.8,1085.5 1636.2,1057.1 1629.2,1050.0" fill="#ff4500"/>
<rect x="1653.0" y="1061.2" width="10.0" height="101.8" fill="#ff4500"/>
<rect x="1648.5" y="1056.2" width="19.0" height="10.0" fill="#ff4500"/>
<rect x="1648.5" y="1158.0" width="19.0" height="10.0" fill="#ff4500"/>
<rect x="1643.5" y="1100.7" width="29.0" height="10.0" fill="#ff4500"/>
<rect x="1653.0" y="1091.2" width="10.0" height="29.0" fill="#ff4500"/>
<polygon points="1640.8,1095.0 1647.8,1088.0 1676.2,1116.4 1669.2,1123.5" fill="#ff4500"/>
<polygon points="1640.8,1116.4 1647.8,1123.5 1676.2,1095.0 1669.2,1088.0" fill="#ff4500"/>
<rect x="1694.0" y="1109.1" width="10.0" height="112.9" fill="#ff4500"/>
<rect x="1689.5" y="1104.1" width="19.0" height="10.0" fill="#ff4500"/>
<rect x="1689.5" y="1217.0" width="19.0" height="10.0" fill="#ff4500"/>
<rect x="1684.5" y="1152.6" width="29.0" height="10.0" fill="#ff4500"/>
<rect x="1694.0" y="1143.1" width="10.0" height="29.0" fill="#ff4500"/>
<polygon points="1681.8,1146.9 1688.8,1139.8 1717.2,1168.2 1710.2,1175.3" fill="#ff4500"/>
<polygon points="1681.8,1168.2 1688.8,1175.3 1717.2,1146.9 1710.2,1139.8" fill="#ff4500"/>
<rect x="1735.0" y="1120.0" width="10.0" height="103.0" fill="#ff4500"/>
<rect x="1730.5" y="1115.0" width="19.0" height="10.0" fill="#ff4500"/>
<rect x="1730.5" y="1218.5" width="19.0" height="9.0" fill="#ff4500"/>
<rect x="1725.5" y="1163.6" width="29.0" height="10.0" fill="#ff4500"/>
<rect x="1735.0" y="1154.1" width="10.0" height="29.0" fill="#ff4500"/>
<polygon points="1722.8,1157.9 1729.8,1150.8 1758.2,1179.2 1751.2,1186.3" fill="#ff4500"/>
<polygon points="1722.8,1179.2 1729.8,1186.3 1758.2,1157.9 1751.2,1150.8" fill="#ff4500"/>
<rect x="1776.0" y="1139.0" width="10.0" height="84.0" fill="#ff4500"/>
<rect x="1771.5" y="1134.0" width="19.0" height="10.0" fill="#ff4500"/>
<rect x="1771.5" y="1218.5" width="19.0" height="9.0" fill="#ff4500"/>
<rect x="1766.5" y="1197.5" width="29.0" height="10.0" fill="#ff4500"/>
<rect x="1776.0" y="1188.0" width="10.0" height="29.0" fill="#ff4500"/>
<polygon points="1763.8,1191.8 1770.8,1184.8 1799.2,1213.2 1792.2,1220.2" fill="#ff4500"/>
<polygon points="1763.8,1213.2 1770.8,1220.2 1799.2,1191.8 1792.2,1184.8" fill="#ff4500"/>
<rect x="1817.0" y="1098.1" width="10.0" height="124.9" fill="#ff4500"/>
<rect x="1812.5" y="1093.1" width="19.0" height="10.0" fill="#ff4500"/>
<rect x="1812.5" y="1218.5" width="19.0" height="9.0" fill="#ff4500"/>
<rect x="1807.5" y="1187.0" width="29.0" height="10.0" fill="#ff4500"/>
<rect x="1817.0" y="1177.5" width="10.0" height="29.0" fill="#ff4500"/>
<polygon points="1804.8,1181.3 1811.8,1174.2 1840.2,1202.7 1833.2,1209.8" fill="#ff4500"/>
<polygon points="1804.8,1202.7 1811.8,1209.8 1840.2,1181.3 1833.2,1174.2" fill="#ff4500"/>
<rect x="1858.0" y="1116.1" width="10.0" height="106.9" fill="#ff4500"/>
<rect x="1853.5" y="1111.1" width="19.0" height="10.0" fill="#ff4500"/>
<rect x="1853.5" y="1218.5" width="19.0" height="9.0" fill="#ff4500"/>
<rect x="1848.5" y="1200.9" width="29.0" height="10.0" fill="#ff4500"/>
<rect x="1858.0" y="1191.4" width="10.0" height="29.0" fill="#ff4500"/>
<polygon points="1845.8,1195.2 1852.8,1188.2 1881.2,1216.6 1874.2,1223.7" fill="#ff4500"/>
<polygon points="1845.8,1216.6 1852.8,1223.7 1881.2,1195.2 1874.2,1188.2" fill="#ff4500"/>
<circle cx="350.9" cy="103.8" r="9.3" fill="none" stroke="#000" stroke-width="5.4"/>
<circle cx="350.9" cy="103.8" r="2.8" fill="#000"/>
<circle cx="391.8" cy="54.6" r="9.3" fill="none" stroke="#000" stroke-width="5.4"/>
<circle cx="391.8" cy="54.6" r="2.8" fill="#000"/>
<circle cx="432.6" cy="32.4" r="9.3" fill="none" stroke="#000" stroke-width="5.4"/>
<circle cx="432.6" cy="32.4" r="2.8" fill="#000"/>
<circle cx="473.5" cy="71.8" r="9.3" fill="none" stroke="#000" stroke-width="5.4"/>
<circle cx="473.5" cy="71.8" r="2.8" fill="#000"/>
<circle cx="514.4" cy="127.8" r="9.3" fill="none" stroke="#000" stroke-width="5.4"/>
<circle cx="514.4" cy="127.8" r="2.8" fill="#000"/>
<circle cx="555.2" cy="175.8" r="9.3" fill="none" stroke="#000" stroke-width="5.4"/>
<circle cx="555.2" cy="175.8" r="2.8" fill="#000"/>
<circle cx="596.1" cy="241.0" r="9.3" fill="none" stroke="#000" stroke-width="5.4"/>
<circle cx="596.1" cy="241.0" r="2.8" fill="#000"/>
<circle cx="637.0" cy="306.1" r="9.3" fill="none" stroke="#000" stroke-width="5.4"/>
<circle cx="637.0" cy="306.1" r="2.8" fill="#000"/>
<circle cx="677.9" cy="369.0" r="9.3" fill="none" stroke="#000" stroke-width="5.4"/>
<circle cx="677.9" cy="369.0" r="2.8" fill="#000"/>
<circle cx="718.8" cy="432.2" r="9.3" fill="none" stroke="#000" stroke-width="5.4"/>
<circle cx="718.8" cy="432.2" r="2.8" fill="#000"/>
<circle cx="759.6" cy="494.0" r="9.3" fill="none" stroke="#000" stroke-width="5.4"/>
<circle cx="759.6" cy="494.0" r="2.8" fill="#000"/>
<circle cx="800.5" cy="572.8" r="9.3" fill="none" stroke="#000" stroke-width="5.4"/>
<circle cx="800.5" cy="572.8" r="2.8" fill="#000"/>
<circle cx="841.4" cy="605.0" r="9.3" fill="none" stroke="#000" stroke-width="5.4"/>
<circle cx="841.4" cy="605.0" r="2.8" fill="#000"/>
<circle cx="882.2" cy="670.8" r="9.3" fill="none" stroke="#000" stroke-width="5.4"/>
<circle cx="882.2" cy="670.8" r="2.8" fill="#000"/>
<circle cx="923.1" cy="777.8" r="9.3" fill="none" stroke="#000" stroke-width="5.4"/>
<circle cx="923.1" cy="777.8" r="2.8" fill="#000"/>
<circle cx="964.0" cy="901.0" r="9.3" fill="none" stroke="#000" stroke-width="5.4"/>
<circle cx="964.0" cy="901.0" r="2.8" fill="#000"/>
<circle cx="1004.9" cy="947.6" r="9.3" fill="none" stroke="#000" stroke-width="5.4"/>
<circle cx="1004.9" cy="947.6" r="2.8" fill="#000"/>
<circle cx="1045.8" cy="1081.0" r="9.3" fill="none" stroke="#000" stroke-width="5.4"/>
<circle cx="1045.8" cy="1081.0" r="2.8" fill="#000"/>
<rect x="308.0" y="15.0" width="1639.0" height="4.0" fill="#000"/>
<rect x="308.0" y="1222.0" width="1639.0" height="3.0" fill="#000"/>
<rect x="308.0" y="17.0" width="4.0" height="1206.0" fill="#000"/>
<rect x="1943.0" y="17.0" width="4.0" height="1206.0" fill="#000"/>
<rect x="1628.0" y="72.0" width="217.0" height="9.0" fill="#0000ff"/>
<rect x="1623.0" y="67.0" width="10.0" height="19.0" fill="#0000ff"/>
<rect x="1840.0" y="67.0" width="10.0" height="19.0" fill="#0000ff"/>
<rect x="1732.0" y="62.0" width="10.0" height="29.0" fill="#0000ff"/>
<rect x="1628.0" y="154.8" width="217.0" height="9.0" fill="#ff4500"/>
<rect x="1623.0" y="149.8" width="10.0" height="19.0" fill="#ff4500"/>
<rect x="1840.0" y="149.8" width="10.0" height="19.0" fill="#ff4500"/>
<rect x="1732.0" y="144.8" width="10.0" height="29.0" fill="#ff4500"/>
<polygon points="1719.2,148.7 1726.3,141.6 1754.8,170.0 1747.7,177.1" fill="#ff4500"/>
<polygon points="1719.2,170.0 1726.3,177.1 1754.8,148.7 1747.7,141.6" fill="#ff4500"/>
<circle cx="1737.0" cy="242.0" r="9.3" fill="none" stroke="#000" stroke-width="5.4"/>
<circle cx="1737.0" cy="242.0" r="2.8" fill="#000"/>
</g>
<g font-family="&#39;Liberation Sans&#39;, sans-serif" fill="#000">
<text x="321.0" y="1332.7" font-size="82.7" text-anchor="middle" >0</text>
<text x="525.4" y="1332.7" font-size="82.7" text-anchor="middle" >5</text>
<text x="729.8" y="1332.7" font-size="82.7" text-anchor="middle" >10</text>
<text x="934.1" y="1332.7" font-size="82.7" text-anchor="middle" >15</text>
<text x="1138.5" y="1332.7" font-size="82.7" text-anchor="middle" >20</text>
<text x="1342.9" y="1332.7" font-size="82.7" text-anchor="middle" >25</text>
<text x="1547.2" y="1332.7" font-size="82.7" text-anchor="middle" >30</text>
<text x="1751.6" y="1332.7" font-size="82.7" text-anchor="middle" >35</text>
<text x="1956.0" y="1332.7" font-size="82.7" text-anchor="middle" >40</text>
<text x="110" y="177.5" font-size="82.7">10<tspan font-size="66.2" dy="-42">-1</tspan></text>
<text x="110" y="628.5" font-size="82.7">10<tspan font-size="66.2" dy="-42">-2</tspan></text>
<text x="110" y="1079.5" font-size="82.7">10<tspan font-size="66.2" dy="-42">-3</tspan></text>
<text x="467" y="1391.5" font-size="82.7">number of monomers in the train n<tspan font-size="66.2" dy="24.5">tn</tspan></text>
<text transform="translate(90,929) rotate(-90)" font-size="82.7">Probability P(<tspan dx="-1.5">n</tspan><tspan font-size="66.2" dy="24.5" dx="-1">tn</tspan><tspan dy="-24.5" dx="2.5">)</tspan></text>
<text x="1579.0" y="103.5" font-size="82.7" text-anchor="end" >cPB30/Sil</text>
<text x="1579.0" y="187.0" font-size="82.7" text-anchor="end" >cPB100/Sil</text>
<text x="1579" y="261" font-size="82.7" text-anchor="end">cPB30/NP-Sil, R<tspan font-size="66.2" dy="24.5">NP</tspan><tspan dy="-20">≈</tspan><tspan dy="-4.5">2nm</tspan></text>
</g>
</svg>
</body></html>
